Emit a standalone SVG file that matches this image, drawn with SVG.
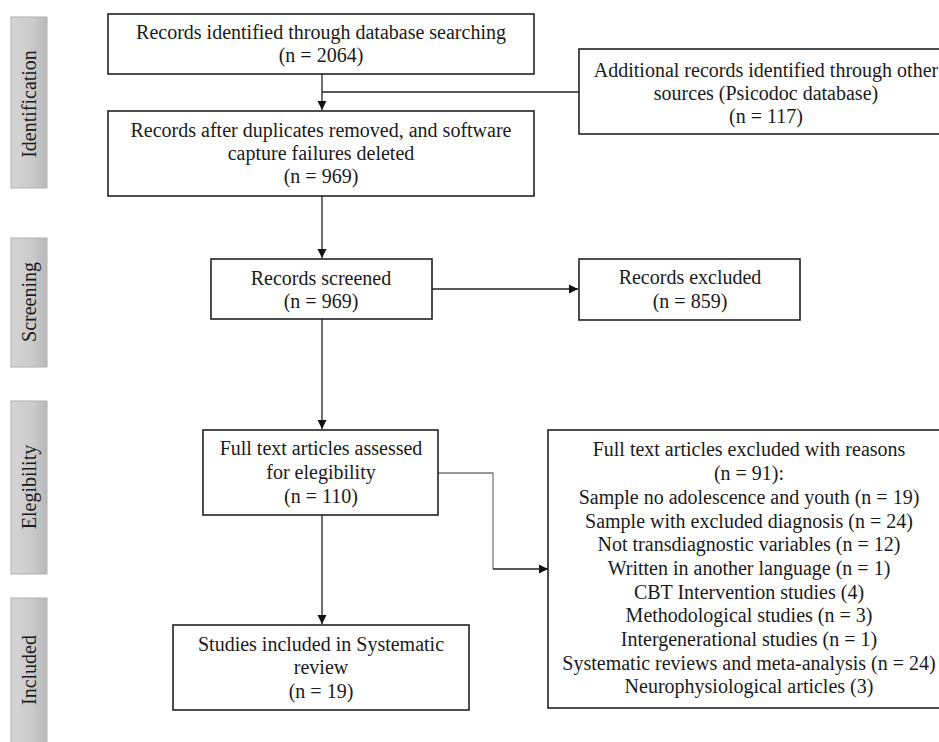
<svg xmlns="http://www.w3.org/2000/svg" width="939" height="742" viewBox="0 0 939 742">
<defs>
<linearGradient id="g" x1="0" y1="0" x2="1" y2="0">
<stop offset="0" stop-color="#d6d6d6"/>
<stop offset="0.6" stop-color="#cacaca"/>
<stop offset="1" stop-color="#b8b8b8"/>
</linearGradient>
<marker id="ah" markerWidth="10" markerHeight="10" refX="9" refY="5" orient="auto" markerUnits="userSpaceOnUse">
<path d="M0,0.5 L9,5 L0,9.5 Z" fill="#111"/>
</marker>
</defs>
<style>
.box{fill:#fff;stroke:#222;stroke-width:1.6}
.side{fill:url(#g);stroke:#b0b0b0;stroke-width:1}
text{font-family:"Liberation Serif","Times New Roman",serif;font-size:20px;fill:#1a1a1a}
.c{text-anchor:middle}
.ln{fill:none;stroke:#222;stroke-width:1.3}
.gl{fill:none;stroke:#777;stroke-width:1.3}
</style>
<rect width="939" height="742" fill="#fff"/>
<g id="side-identification">
<rect class="side" x="11" y="17" width="36" height="171"/>
<text class="c" transform="translate(36,104) rotate(-90)">Identification</text>
</g>
<g id="side-screening">
<rect class="side" x="11" y="238" width="36" height="129"/>
<text class="c" transform="translate(36,302) rotate(-90)">Screening</text>
</g>
<g id="side-elegibility">
<rect class="side" x="11" y="401" width="36" height="173"/>
<text class="c" transform="translate(36,487) rotate(-90)">Elegibility</text>
</g>
<g id="side-included">
<rect class="side" x="11" y="598" width="36" height="150"/>
<text class="c" transform="translate(36,670) rotate(-90)">Included</text>
</g>
<g id="connectors">
<line class="ln" x1="322" y1="74" x2="322" y2="110" marker-end="url(#ah)"/>
<line class="ln" x1="579" y1="92" x2="322" y2="92"/>
<line class="ln" x1="322" y1="196" x2="322" y2="258" marker-end="url(#ah)"/>
<line class="ln" x1="432" y1="289" x2="578" y2="289" marker-end="url(#ah)"/>
<line class="ln" x1="322" y1="319" x2="322" y2="429" marker-end="url(#ah)"/>
<polyline class="gl" points="438,473 493,473 493,569"/>
<line class="ln" x1="493" y1="569" x2="548" y2="569" marker-end="url(#ah)"/>
<line class="ln" x1="322" y1="515" x2="322" y2="624" marker-end="url(#ah)"/>
</g>
<g id="n-db">
<rect class="box" x="108" y="14" width="426" height="60"/>
<text class="c" x="321" y="39">Records identified through database searching</text>
<text class="c" x="321" y="62">(n = 2064)</text>
</g>
<g id="n-other">
<rect class="box" x="579" y="49" width="365" height="85"/>
<text class="c" x="766" y="77">Additional records identified through other</text>
<text class="c" x="766" y="100">sources (Psicodoc database)</text>
<text class="c" x="766" y="123">(n = 117)</text>
</g>
<g id="n-dup">
<rect class="box" x="108" y="111" width="426" height="85"/>
<text class="c" x="321" y="137">Records after duplicates removed, and software</text>
<text class="c" x="321" y="160">capture failures deleted</text>
<text class="c" x="321" y="183">(n = 969)</text>
</g>
<g id="n-screened">
<rect class="box" x="211" y="259" width="221" height="60"/>
<text class="c" x="321" y="285">Records screened</text>
<text class="c" x="321" y="308">(n = 969)</text>
</g>
<g id="n-excluded">
<rect class="box" x="579" y="259" width="221" height="61"/>
<text class="c" x="690" y="284">Records excluded</text>
<text class="c" x="690" y="308">(n = 859)</text>
</g>
<g id="n-fulltext">
<rect class="box" x="203" y="430" width="235" height="85"/>
<text class="c" x="321" y="455">Full text articles assessed</text>
<text class="c" x="321" y="479">for elegibility</text>
<text class="c" x="321" y="503">(n = 110)</text>
</g>
<g id="n-reasons">
<rect class="box" x="548" y="430" width="396" height="278"/>
<text class="c" x="749" y="456">Full text articles excluded with reasons</text>
<text class="c" x="749" y="480">(n = 91):</text>
<text class="c" x="749" y="504">Sample no adolescence and youth (n = 19)</text>
<text class="c" x="749" y="528">Sample with excluded diagnosis (n = 24)</text>
<text class="c" x="749" y="551">Not transdiagnostic variables (n = 12)</text>
<text class="c" x="749" y="575">Written in another language (n = 1)</text>
<text class="c" x="749" y="599">CBT Intervention studies (4)</text>
<text class="c" x="749" y="622">Methodological studies (n = 3)</text>
<text class="c" x="749" y="646">Intergenerational studies (n = 1)</text>
<text class="c" x="749" y="670">Systematic reviews and meta-analysis (n = 24)</text>
<text class="c" x="749" y="693">Neurophysiological articles (3)</text>
</g>
<g id="n-included">
<rect class="box" x="173" y="625" width="296" height="85"/>
<text class="c" x="321" y="651">Studies included in Systematic</text>
<text class="c" x="321" y="674">review</text>
<text class="c" x="321" y="698">(n = 19)</text>
</g>
</svg>
